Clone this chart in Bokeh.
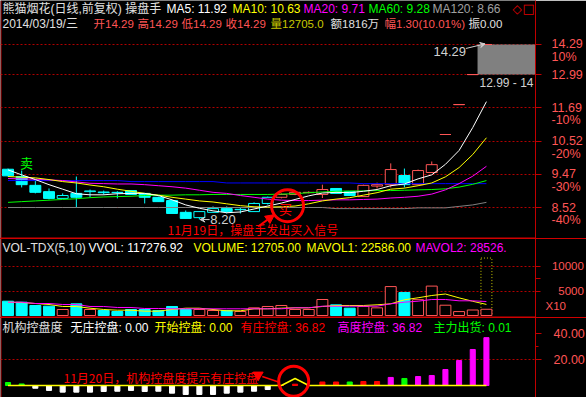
import numpy as np
from bokeh.plotting import figure
from bokeh.models import (Range1d, FixedTicker, Label, Arrow, NormalHead, VeeHead,
                          Span, BoxAnnotation, LinearAxis)
from bokeh.layouts import column
from bokeh.embed import file_html
from bokeh.resources import INLINE
from bokeh.core.properties import value

# ---------------- data ----------------
opens  = [9.62, 9.40, 9.14, 8.96, 8.77, 8.91, 8.96, 8.95, 8.94, 8.99,
          8.91, 8.80, 8.71, 8.39, 8.25, 8.39, 8.49, 8.46, 8.41, 8.63,
          8.80, 8.88, 8.93, 8.88, 9.05, 8.96, 8.82, 9.12, 9.16, 9.43,
          9.16, 9.52, 10.74, 11.81, 12.99, 14.29]
highs  = [9.64, 9.58, 9.28, 9.05, 8.91, 9.40, 9.02, 8.99, 8.97, 8.99,
          8.91, 8.82, 8.72, 8.44, 8.42, 8.55, 8.55, 8.52, 8.66, 8.82,
          8.91, 8.96, 8.97, 9.16, 9.05, 8.96, 9.16, 9.22, 9.80, 9.64,
          9.61, 9.86, 10.74, 11.81, 12.99, 14.29]
lows   = [9.40, 9.08, 8.91, 8.74, 8.77, 8.52, 8.80, 8.87, 8.77, 8.88,
          8.63, 8.68, 8.36, 8.23, 8.20, 8.39, 8.36, 8.36, 8.41, 8.60,
          8.77, 8.86, 8.91, 8.78, 8.91, 8.85, 8.82, 9.05, 9.08, 9.08,
          9.16, 9.52, 10.74, 11.81, 12.99, 14.29]
closes = [9.42, 9.16, 8.94, 8.77, 8.85, 8.80, 8.98, 8.93, 8.93, 8.88,
          8.80, 8.68, 8.36, 8.23, 8.41, 8.49, 8.41, 8.47, 8.63, 8.80,
          8.88, 8.94, 8.94, 9.02, 8.91, 8.85, 9.14, 9.16, 9.61, 9.16,
          9.58, 9.76, 10.74, 11.81, 12.99, 14.29]

ma5   = [9.60, 9.45, 9.31, 9.16, 9.03, 8.90, 8.87, 8.87, 8.90, 8.91,
         8.91, 8.85, 8.73, 8.59, 8.50, 8.43, 8.38, 8.40, 8.48, 8.56,
         8.64, 8.74, 8.84, 8.92, 8.94, 8.93, 8.97, 9.02, 9.13, 9.18,
         9.33, 9.45, 9.77, 10.21, 10.98, 11.92]
ma10  = [9.40, 9.38, 9.36, 9.31, 9.25, 9.21, 9.15, 9.10, 9.03, 8.97,
         8.91, 8.86, 8.80, 8.75, 8.70, 8.67, 8.62, 8.57, 8.54, 8.53,
         8.54, 8.56, 8.62, 8.70, 8.75, 8.79, 8.86, 8.93, 9.03, 9.06,
         9.13, 9.21, 9.39, 9.67, 10.08, 10.63]
ma20  = [9.34, 9.33, 9.32, 9.30, 9.28, 9.24, 9.20, 9.19, 9.18, 9.18,
         9.16, 9.13, 9.10, 9.06, 9.00, 8.94, 8.91, 8.85, 8.80, 8.75,
         8.72, 8.71, 8.71, 8.72, 8.73, 8.73, 8.74, 8.75, 8.78, 8.80,
         8.83, 8.89, 9.01, 9.19, 9.41, 9.71]
ma60  = [8.66, 8.68, 8.70, 8.72, 8.74, 8.76, 8.79, 8.81, 8.82, 8.83,
         8.85, 8.86, 8.86, 8.87, 8.87, 8.88, 8.88, 8.88, 8.88, 8.88,
         8.89, 8.90, 8.93, 8.95, 8.97, 8.98, 8.98, 8.99, 8.99, 9.00,
         9.01, 9.02, 9.04, 9.09, 9.17, 9.28]
ma120 = [8.52, 8.52, 8.52, 8.52, 8.52, 8.52, 8.52, 8.52, 8.52, 8.52,
         8.52, 8.52, 8.52, 8.52, 8.52, 8.52, 8.52, 8.52, 8.52, 8.52,
         8.52, 8.52, 8.52, 8.52, 8.49, 8.49, 8.49, 8.49, 8.49, 8.49,
         8.51, 8.51, 8.51, 8.55, 8.59, 8.66]
ma_long = [9.28, 9.28, 9.28, 9.28, 9.28, 9.28, 9.28, 9.28, 9.28, 9.25,
           9.25, 9.25, 9.25, 9.25, 9.25, 9.25, 9.21, 9.21, 9.21, 9.21,
           9.21, 9.21, 9.21, 9.21, 9.21, 9.21, 9.19, 9.19, 9.19, 9.19,
           9.19, 9.19, 9.19, 9.19, 9.19, 9.19]

volume = [29180, 27140, 20410, 18980, 12240, 23810, 12240, 10200, 8160, 12240,
          12240, 10200, 18370, 12240, 12240, 10200, 10200, 8160, 15650, 18370,
          20410, 12240, 12240, 32650, 21770, 14970, 18370, 15650, 59000, 47000,
          32310, 60000, 21000, 8000, 11225, 12705]
vvol_last = 117276.92
mavol1 = [27150, 26530, 24490, 22450, 18370, 18370, 14900, 12250, 10820, 10820,
          8780, 8780, 12250, 14900, 14900, 12250, 9590, 9590, 13670, 13670,
          14900, 15700, 15700, 18370, 20410, 20410, 20410, 21840, 23880, 32040,
          36130, 40820, 43860, 36000, 29000, 22586]
mavol2 = [27150, 27150, 24490, 24490, 22450, 22450, 18370, 18370, 16330, 16330,
          14290, 14290, 13670, 13670, 13670, 13670, 13670, 13670, 13670, 13670,
          13670, 15700, 15700, 18980, 18980, 18980, 18980, 18980, 23880, 27150,
          29190, 32660, 32660, 30000, 30000, 28526]

kongpan = [2.3, 1.2, -2.1, -3.8, -5.1, -5.1, -5.1, -4.6, -4.4, -3.8,
           -4.6, -4.4, -5.9, -6.9, -6.9, -6.9, -5.9, -5.1, -4.4, -3.1,
           0.0, 1.0, 0.0, 2.7, 2.7, 2.7, 3.1, 3.1, 6.2, 5.4,
           6.9, 7.7, 12.3, 19.2, 27.7, 36.82]
chuhuo_days = [0, 1, 25, 29]
kaishi = [0, 0, 0, 0, 0, 0, 0, 0, 0, 0, 0, 0, 0, 0, 0, 0, 0, 0, 0, 0,
          0, 5.4, 0, 0, 0, 0, 0, 0, 0, 0, 0, 0, 0, 0, 0, 0]

price_ticks = [8.52, 9.47, 10.52, 11.69, 12.99, 14.29]
pct_labels = ["-40%", "-30%", "-20%", "-10%", "", "10%"]
vol_ticks = [5000, 10000]
vol_unit_tick = 1940          # where the "X10" unit tag sits on the volume axis
kp_ticks = [20, 40]
signal_idx = 20   # 11月19日
sell_idx = 1

# ---------------- styling ----------------
BG = "#000000"
AXRED = "#c00000"
SEPRED = "#d00000"
LBL = "#ff5555"
UP = "#ff5555"
DN = "#00ffff"
FONT = "'Liberation Sans', 'Noto Sans CJK SC'"
FS = "\u2007"  # figure space (digit wide), used to right-align axis labels

n = len(closes)
x = np.arange(n)
o = np.array(opens); c = np.array(closes); h = np.array(highs); l = np.array(lows)
up = c >= o
XR = Range1d(-0.549, 38.59)


def make_fig(fh, yr, ytype="linear"):
    p = figure(frame_width=535, frame_height=fh, x_range=XR, y_range=yr, y_axis_type=ytype,
               output_backend="svg", toolbar_location=None,
               min_border_left=0, min_border_right=51, min_border_top=0, min_border_bottom=0,
               background_fill_color=BG, border_fill_color=BG, outline_line_color=None,
               x_axis_location=None, y_axis_location="right")
    for g in p.xgrid:
        g.visible = False
    ax = p.yaxis[0]
    ax.axis_line_color = AXRED
    ax.major_tick_line_color = AXRED
    ax.minor_tick_line_color = AXRED
    ax.major_tick_out = 6
    ax.major_tick_in = 0
    ax.minor_tick_out = 3
    ax.minor_tick_in = 0
    ax.major_label_text_color = LBL
    ax.major_label_text_font = "Liberation Sans"
    ax.major_label_text_font_size = "12.5px"
    for g in p.ygrid:
        g.grid_line_color = "#b00000"
        g.grid_line_dash = "2 2"
    p.add_layout(Span(location=0.5, location_units="screen", dimension="height",
                      line_color=AXRED, line_width=1))
    return p


def hdr(p, items, y, size="12px"):
    for txt, xp, col in items:
        p.add_layout(Label(x=xp, y=y, x_units="screen", y_units="screen", text=txt,
                           text_color=col, text_font=FONT, text_font_size=size,
                           text_baseline="middle", text_align="left"))


def sep(p, z):
    # separator under a panel: 1px inside the frame + 1px just below the whole figure
    p.add_layout(BoxAnnotation(left=0, right=586, bottom=0, top=1, left_units="screen",
                               right_units="screen", bottom_units="screen", top_units="screen",
                               fill_color=SEPRED, fill_alpha=1, line_color=None))
    p.styles = {"position": "relative", "z-index": str(z),
                "box-shadow": f"0 1px 0 0 {SEPRED}"}


# ================= main price panel =================
p1 = make_fig(238, Range1d(7.722, 16.43), "log")
tk = FixedTicker(ticks=price_ticks, minor_ticks=[])
p1.yaxis[0].ticker = tk
p1.ygrid[0].ticker = tk
p1.yaxis[0].major_label_overrides = {
    t: (f"{t:.2f}" if s == "" else f" \n{t:.2f}\n{s}") for t, s in zip(price_ticks, pct_labels)}
p1.yaxis[0].major_label_text_line_height = 0.9
p1.yaxis[0].major_label_standoff = 10
p1.yaxis[0].major_label_text_align = "right"

# highlighted last-day range box
p1.quad(left=[n - 1 - 0.65], right=[40], bottom=[closes[-2]], top=[highs[-1]],
        fill_color="#808080", line_color=None)

line_col = [DN if (not u) or i < signal_idx else UP for i, u in enumerate(up)]
fill_col = [DN if not u else BG for u in up]
p1.segment(x, h, x, l, color=line_col, line_width=1)
p1.vbar(x=x, width=0.8, top=np.maximum(o, c), bottom=np.minimum(o, c),
        fill_color=fill_col, line_color=line_col, line_width=1)
flat = np.where(o == c)[0]
p1.segment(flat - 0.4, c[flat], flat + 0.4, c[flat], color=[line_col[i] for i in flat], line_width=1)

for ser, col in [(ma120, "#808080"), (ma_long, "#0000ff"), (ma60, "#00ff00"),
                 (ma20, "#ff00ff"), (ma10, "#ffff00"), (ma5, "#ffffff")]:
    p1.line(x, ser, line_color=col, line_width=1)

# signals & notes
p1.text(x=[sell_idx + 0.35], y=[9.83], text=["卖"], text_color="#00ff00",
        text_font=value("Noto Sans CJK SC"), text_font_size="13px",
        text_align="center", text_baseline="middle")
p1.scatter(x=[signal_idx + 0.45], y=[8.57], marker="circle", size=32,
           fill_color=None, line_color="#ff0000", line_width=3)
p1.text(x=[signal_idx + 0.3], y=[8.49], text=["买"], text_color="#ff0000",
        text_font=value("Noto Sans CJK SC"), text_font_size="13px",
        text_align="center", text_baseline="middle")
p1.text(x=[11.67], y=[7.95], text=["11月19日，操盘手发出买入信号"], text_color="#ff0000",
        text_font=value("Noto Sans CJK SC"), text_font_size="12px",
        text_align="left", text_baseline="middle")
p1.add_layout(Arrow(x_start=18.3, y_start=8.02, x_end=19.5, y_end=8.33,
                    line_color="#ff0000", line_width=2,
                    end=NormalHead(size=9, fill_color="#ff0000", line_color="#ff0000")))

ilow = int(np.argmin(l))
p1.add_layout(Arrow(x_start=ilow + 0.75, y_start=lows[ilow], x_end=ilow + 0.05, y_end=lows[ilow],
                    line_color="#d0d0d0", line_width=1,
                    end=VeeHead(size=5, line_color="#d0d0d0", fill_color="#d0d0d0")))
p1.text(x=[ilow + 0.8], y=[lows[ilow]], text=[f"{lows[ilow]:.2f}"], text_color="#d0d0d0",
        text_font=value("Liberation Sans"), text_font_size="13px",
        text_align="left", text_baseline="middle")

p1.text(x=[31.13], y=[13.98], text=[f"{highs[-1]:.2f}"], text_color="#d0d0d0",
        text_font=value("Liberation Sans"), text_font_size="13px",
        text_align="left", text_baseline="middle")
p1.add_layout(Arrow(x_start=33.5, y_start=14.11, x_end=34.9, y_end=14.32,
                    line_color="#d0d0d0", line_width=1,
                    end=VeeHead(size=5, line_color="#d0d0d0", fill_color="#d0d0d0")))
p1.text(x=[34.49], y=[12.63], text=[f"{closes[-2]:.2f} - 14"], text_color="#d0d0d0",
        text_font=value("Liberation Sans"), text_font_size="12px",
        text_align="left", text_baseline="middle")

hdr(p1, [("熊猫烟花(日线,前复权) 操盘手", 2, "#e0e0e0"),
         ("MA5: 11.92", 166, "#ffffff"),
         ("MA10: 10.63", 232, "#ffff00"),
         ("MA20: 9.71", 303, "#ff00ff"),
         ("MA60: 9.28", 368, "#00ff00"),
         ("MA120: 8.66", 432, "#a0a0a0")], 230)
hdr(p1, [("2014/03/19/三", 2, "#e0e0e0")], 215)
hdr(p1, [("开14.29", 93, "#ff5555"),
         ("高14.29", 137, "#ff5555"),
         ("低14.29", 181, "#ff5555"),
         ("收14.29", 225, "#ff5555"),
         ("量12705.0", 270, "#c8c800"),
         ("额1816万", 330, "#e0e0e0"),
         ("幅1.30(10.01%)", 384, "#ff5555"),
         ("振0.00", 468, "#e0e0e0")], 215, "11.5px")
p1.add_layout(Label(x=512, y=230, x_units="screen", y_units="screen", text="◇",
                    text_color="#e00000", text_font="DejaVu Sans", text_font_size="12px",
                    text_baseline="middle"))
p1.add_layout(Label(x=522, y=230, x_units="screen", y_units="screen", text="□",
                    text_color="#e00000", text_font="DejaVu Sans", text_font_size="13px",
                    text_baseline="middle"))
sep(p1, 3)

# ================= volume panel =================
p2 = make_fig(79, Range1d(-408, 15714))
ax2 = p2.yaxis[0]
ax2.ticker = FixedTicker(ticks=[vol_unit_tick] + vol_ticks, minor_ticks=[5000, 7500, 10000])
p2.ygrid[0].ticker = FixedTicker(ticks=vol_ticks, minor_ticks=[])
ax2.major_tick_out = 0
ax2.minor_tick_out = 5
ax2.major_label_text_font_size = "11.5px"
ax2.major_label_overrides = {vol_unit_tick: "X10", 5000: FS * 2 + "5000", 10000: FS + "10000"}
ax2.major_label_standoff = 5
v10 = np.array(volume) / 10.0
p2.vbar(x=[n - 1], width=0.8, top=[vvol_last / 10.0], bottom=0, fill_color=None,
        line_color="#c8c800", line_dash="1 2", line_width=1)
vcol = [UP if u else DN for u in up]
vfill = [BG if u else DN for u in up]
p2.vbar(x=x, width=0.8, top=v10, bottom=0, fill_color=vfill, line_color=vcol, line_width=1)
p2.line(x, np.array(mavol1) / 10.0, line_color="#ffff00", line_width=1)
p2.line(x, np.array(mavol2) / 10.0, line_color="#ff00ff", line_width=1)
hdr(p2, [("VOL-TDX(5,10)", 2, "#e0e0e0"),
         ("VVOL: 117276.92", 88, "#ffffff"),
         ("VOLUME: 12705.00", 193, "#ffff00"),
         ("MAVOL1: 22586.00", 306, "#ffff00"),
         ("MAVOL2: 28526.", 415, "#ff00ff")], 70)
sep(p2, 2)

# ================= 机构控盘度 panel =================
p3 = make_fig(80, Range1d(-9.23, 52.31))
kt = FixedTicker(ticks=kp_ticks, minor_ticks=[30])
p3.yaxis[0].ticker = kt
p3.ygrid[0].ticker = FixedTicker(ticks=[20], minor_ticks=[])
p3.yaxis[0].major_label_overrides = {20: "20.00", 40: "40.00"}
p3.yaxis[0].major_label_standoff = 12
# outer edge of the boxed scale area: a tick-less second axis just right of the first
edge = LinearAxis(ticker=FixedTicker(ticks=[], minor_ticks=[]), axis_line_color=SEPRED,
                  axis_line_width=2, major_tick_out=0, minor_tick_out=0,
                  major_label_standoff=0)
p3.add_layout(edge, "right")
kp = np.array(kongpan)
kcol = []
for i, v in enumerate(kp):
    if v < 0:
        kcol.append("#ffffff")
    elif i in chuhuo_days:
        kcol.append("#00ff00")
    elif v > 5:
        kcol.append("#ff00ff")
    else:
        kcol.append("#ff0000")
p3.vbar(x=x, width=0.37, top=np.maximum(kp, 0), bottom=np.minimum(kp, 0),
        fill_color=kcol, line_color=kcol)
p3.line(x, kaishi, line_color="#ffff00", line_width=1.5)
p3.scatter(x=[signal_idx + 0.9], y=[3.3], marker="circle", size=30,
           fill_color=None, line_color="#ff0000", line_width=3)
p3.text(x=[4.06], y=[5.9], text=["11月20日，机构控盘度提示有庄控盘"], text_color="#ff0000",
        text_font=value("Noto Sans CJK SC"), text_font_size="12px",
        text_align="left", text_baseline="middle")
p3.scatter(x=[18.3], y=[8.1], marker="inverted_triangle", size=10,
           fill_color="#ff0000", line_color="#ff0000")
p3.segment(x0=[18.6], y0=[6.9], x1=[19.9], y1=[2.3], line_color="#ff0000", line_width=1.5)
hdr(p3, [("机构控盘度", 2, "#e0e0e0"),
         ("无庄控盘: 0.00", 70, "#ffffff"),
         ("开始控盘: 0.00", 154, "#ffff00"),
         ("有庄控盘: 36.82", 240, "#ff0000"),
         ("高度控盘: 36.82", 337, "#ff00ff"),
         ("主力出货: 0.01", 433, "#00ff00")], 70)
p3.styles = {"position": "relative", "z-index": "1"}

layout = column(p1, p2, p3, spacing=0)
open("out.html", "w").write(file_html(layout, INLINE))
